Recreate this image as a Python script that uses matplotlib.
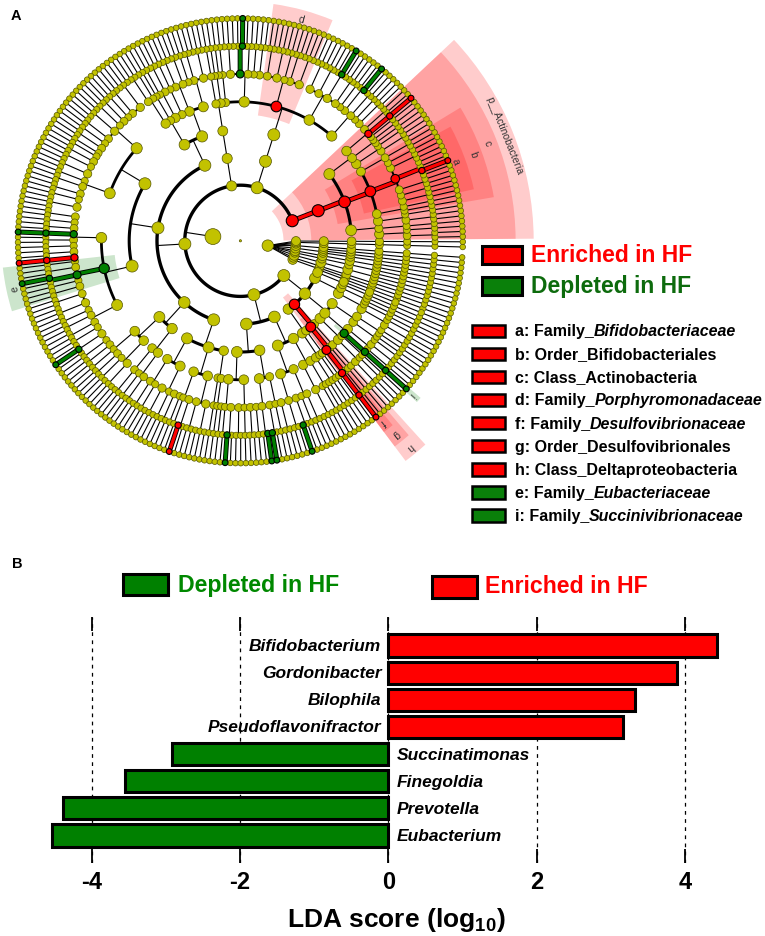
import numpy as np
import matplotlib
matplotlib.use("Agg")
import matplotlib.pyplot as plt
from matplotlib.patches import Wedge, Rectangle
from matplotlib.collections import LineCollection

plt.rcParams["font.family"] = ["Liberation Sans", "DejaVu Sans"]
plt.rcParams["axes.unicode_minus"] = False
plt.rcParams["mathtext.fontset"] = "custom"
plt.rcParams["mathtext.rm"] = "Liberation Sans:bold"
plt.rcParams["mathtext.bf"] = "Liberation Sans:bold"

W, H = 765, 937

# ---- panel A: taxonomy tree (kingdom > phylum > class > order > family > genus > species > OTU)
# an int n = node with n unbranched lineages down to OTU level (0 = tip at that rank)
# ("R"/"G", node) = enriched / depleted in HF, ":x" adds the shaded clade label
K2_PHYLA = [2, 1, [[3]], 1, [[[1, 1]]], 2, [1, 1], 0, 1, 1]

ACTINOBACTERIA = ("R:p__Actinobacteria", [
    ("R:c", [
        [[2, 1], 1, [2, 1]],
        ("R:b", [[1, 1],
                 ("R:a", [2, 1, 2, ("R", [1, ("R", 1), 1, 1]), 2, 1]),
                 [2]]),
        [[2, 1], [1, 1], [1, ("R", 1), 2]],
    ]),
])

BACTEROIDETES = [[[
    [2, 1, 2, [("G", 1), 1], 1],
    [2, [1, ("G", 1), 1], 2, 3],
    ("R:d", [3, 2, 1, 3, 2]),
    [2, 1, 2, ("G", 2), 3],
    1,
]]]

SMALL_PHYLUM = [[[2, 1]]]

BACILLI = [[[3, 2, 1], [2, 2], 1], [[2, 1], 1, [1, 2]]]
CLOSTRIDIA = [
    [[3, 2, 1, 2, 1, 3, 2, 1, 2, 1, 1], [2, 1, 3, 1, 2, 2, 1, 3]],
    [[2, 1, 2, ("G", 1), 2, 1, 2, ("R", 1)],
     ("G:e", [1, 2, ("G", 2), 1, 2]),
     [2, 3, 1, 2, 2, 1, [1, ("G", 1), 1], 1]],
]
FIRM_C3 = [[[2, 1, 2], [1, 3]], [[2], [1, 2]]]
FIRM_C4 = [[[2, 1], [3, 1, 2]], [[1, 1, [("R", 1), 1]], [2, 3]], 2]
FIRMICUTES = [BACILLI, CLOSTRIDIA, FIRM_C3, FIRM_C4]

PHYLUM_X = [
    [[[1, 1, [("G", 1), 1]], [2, 1, 2]], [[1, [1, ("G", 1)], [("G", 1), 1]], 1]],
    [[[2, 2, [("G", 1), 1]], [1, 2]], [[3], 2]],
]

PROTEOBACTERIA = [
    [[2, 1], 1],
    ("R:h", [("R:g", [("R:f", [("R", 1), 1]), 1]), 1]),
    [[[2, 1], 1], [("G:i", 1), [1, 2]], [[1, 1], 2]],
    [[[2, 1], 1], 2],
    [1, 1],
]

K1_PHYLA = [ACTINOBACTERIA, BACTEROIDETES, SMALL_PHYLUM, FIRMICUTES, PHYLUM_X, PROTEOBACTERIA]
KINGDOMS = [K2_PHYLA, K1_PHYLA]

LEG_KEYS = ["a", "b", "c", "d", "f", "g", "h", "e", "i"]
LEG_RANKS = ["Family", "Order", "Class", "Family", "Family", "Order", "Class", "Family", "Family"]
LEG_TAXA = ["Bifidobacteriaceae", "Bifidobacteriales", "Actinobacteria", "Porphyromonadaceae",
            "Desulfovibrionaceae", "Desulfovibrionales", "Deltaproteobacteria",
            "Eubacteriaceae", "Succinivibrionaceae"]
LEG_GROUP = ["R", "R", "R", "R", "R", "R", "R", "G", "G"]

# ---- panel B
GENERA = ["Eubacterium", "Prevotella", "Finegoldia", "Succinatimonas",
          "Pseudoflavonifractor", "Bilophila", "Gordonibacter", "Bifidobacterium"]
LDA = [-4.53, -4.38, -3.55, -2.91, 3.16, 3.32, 3.89, 4.43]

COL = {"R": "#ff0000", "G": "#008000", None: "#c2c200"}


def build(spec, depth, col=None):
    label = None
    if isinstance(spec, tuple):
        tag, spec = spec
        col, _, label = tag.partition(":")
        label = label or None
    node = {"depth": depth, "col": col, "label": label, "kids": []}
    if isinstance(spec, int):
        if depth < 8 and spec > 0:
            node["kids"] = [build(1, depth + 1, col if k == 0 else None) for k in range(spec)]
    else:
        node["kids"] = [build(s, depth + 1) for s in spec]
    return node


root = {"depth": 0, "col": None, "label": None,
        "kids": [build(k, 1) for k in KINGDOMS]}
fan_node = root["kids"][0]

nodes, leaves = [], []


def walk(n):
    nodes.append(n)
    if not n["kids"]:
        n["i0"] = n["i1"] = len(leaves)
        leaves.append(n)
    else:
        for k in n["kids"]:
            walk(k)
        n["i0"], n["i1"] = n["kids"][0]["i0"], n["kids"][-1]["i1"]


walk(root)
TH0 = -21.0
STEP = 360.0 / len(leaves)
S = 27.8
CX, CY = 240.4, H - 241.8


def place(n):
    if not n["kids"]:
        n["th"] = TH0 + (n["i0"] + 0.5) * STEP
    else:
        for k in n["kids"]:
            place(k)
        n["th"] = 0.5 * (n["kids"][0]["th"] + n["kids"][-1]["th"])
    n["r"] = n["depth"] * S


place(root)


def xy(th, r):
    t = np.radians(th)
    return CX + r * np.cos(t), CY + r * np.sin(t)


def arc(r, a, b):
    t = np.linspace(a, b, max(2, int(abs(b - a) * 2) + 2))
    x, y = xy(t, r)
    return list(zip(x, y))


fig = plt.figure(figsize=(W / 100, H / 100), dpi=100)
ax = fig.add_axes([0, 0, 1, 1])
ax.set_xlim(0, W)
ax.set_ylim(0, H)
ax.axis("off")

ARC_LW = {2: 2.4, 3: 2.4, 4: 2.2, 5: 2.0, 6: 1.4, 7: 1.1, 8: 0.9}
segs, lws = [], []
for n in nodes:
    if n["depth"] == 0 or not n["kids"]:
        continue
    if n is fan_node:
        for k in n["kids"]:
            segs.append([xy(n["th"], n["r"]), xy(k["th"], k["r"])])
            lws.append(0.8)
        continue
    rc = n["r"] + S
    segs.append([xy(n["th"], n["r"]), xy(n["th"], rc)])
    lws.append(0.8)
    lo = min(n["th"], n["kids"][0]["th"])
    hi = max(n["th"], n["kids"][-1]["th"])
    if hi - lo > 0.05:
        segs.append(arc(rc, lo, hi))
        lws.append(ARC_LW[n["depth"] + 1])
ax.add_collection(LineCollection(segs, colors="black", linewidths=lws,
                                 capstyle="butt", zorder=2))

# coloured edges between coloured parent/child
for n in nodes:
    for k in n["kids"]:
        if n["col"] and k["col"] and n["depth"] > 0:
            pts = [xy(n["th"], n["r"])] + arc(k["r"], n["th"], k["th"])
            px, py = zip(*pts)
            ax.plot(px, py, color="black", lw=3.6, zorder=3, solid_capstyle="butt")
            ax.plot(px, py, color=COL[k["col"]], lw=2.3, zorder=3.1, solid_capstyle="butt")

# shaded clades + labels
for n in nodes:
    if not n["label"]:
        continue
    lvl = n["depth"]
    r_out = (8.6 + (5 - lvl) * 0.65) * S
    r_in = n["r"] - 0.45 * S
    a0 = TH0 + n["i0"] * STEP
    a1 = TH0 + (n["i1"] + 1) * STEP
    ax.add_patch(Wedge((CX, CY), r_out, a0, a1, width=r_out - r_in,
                       facecolor=COL[n["col"]], alpha=0.2, lw=0, zorder=0))
    tm = 0.5 * (a0 + a1)
    tx, ty = xy(tm, r_out - 0.33 * S)
    ax.text(tx, ty, n["label"], rotation=tm - 90, ha="center", va="center",
            fontsize=7.5, color="#333333", rotation_mode="anchor", zorder=1)

# nodes: size grows with rank and with the number of tips below
BASE = {1: 9.0, 2: 9.0, 3: 9.0, 4: 8.8, 5: 8.2, 6: 7.2, 7: 6.3, 8: 5.6}
for group in (None, "R", "G"):
    px, py, ss = [], [], []
    for n in nodes:
        if n["col"] != group:
            continue
        nl = n["i1"] - n["i0"] + 1
        if n["depth"] == 0:
            d = 2.2
        elif n["depth"] == 1:
            d = 7.0 + 1.6 * np.log(nl)
        else:
            d = min(12.0, BASE[n["depth"]] + 1.0 * np.log(nl))
        if group:
            d = max(d, 5.8)
        x, y = xy(n["th"], n["r"])
        px.append(x)
        py.append(y)
        ss.append((d * 0.72) ** 2)
    ax.scatter(px, py, s=ss, c=COL[group],
               edgecolors="#555500" if group is None else "black",
               linewidths=0.5 if group is None else 0.8, zorder=4 if group is None else 5)

# panel A legend
ax.text(10.7, H - 16, "A", fontsize=10.5, fontweight="bold", va="center")
ax.add_patch(Rectangle((482, H - 265), 40, 18, fc="#ff0000", ec="black", lw=2.2))
ax.text(531, H - 256, "Enriched in HF", fontsize=16.5, fontweight="bold",
        color="#ff0000", va="center")
ax.add_patch(Rectangle((482, H - 295.5), 40, 18, fc="#0a800a", ec="black", lw=2.2))
ax.text(531, H - 286.5, "Depleted in HF", fontsize=16.5, fontweight="bold",
        color="#0d6b0d", va="center")

for j, (key, rank, taxon, grp) in enumerate(zip(LEG_KEYS, LEG_RANKS, LEG_TAXA, LEG_GROUP)):
    yc = H - (331.7 + 23.1 * j)
    ax.add_patch(Rectangle((472, yc - 6.2), 33, 12.4,
                           fc="#ff0000" if grp == "R" else "#0a800a", ec="black", lw=1.8))
    if rank == "Family":
        t1 = ax.text(515, yc, f"{key}: {rank}_", fontsize=11.5, fontweight="bold", va="center")
        ax.annotate(taxon, xy=(1, 0), xycoords=t1, va="bottom", ha="left",
                    fontsize=11.5, fontweight="bold", style="italic")
    else:
        ax.text(515, yc, f"{key}: {rank}_{taxon}", fontsize=11.5, fontweight="bold", va="center")

# ---- panel B
ax.text(11.7, H - 564, "B", fontsize=10.5, fontweight="bold", va="center")
ax.add_patch(Rectangle((123.3, H - 595.7), 45, 20.7, fc="#008000", ec="black", lw=2.2))
ax.text(177.7, H - 585.3, "Depleted in HF", fontsize=16.7, fontweight="bold",
        color="#008800", va="center")
ax.add_patch(Rectangle((431.7, H - 599), 45.6, 22.3, fc="#ff0000", ec="black", lw=2.2))
ax.text(485, H - 586.7, "Enriched in HF", fontsize=16.7, fontweight="bold",
        color="#ff0000", va="center")

bx = fig.add_axes([30 / W, (H - 864) / H, 730 / W, 246 / H], facecolor="none")
ypos = np.arange(len(GENERA))
bx.barh(ypos, LDA, height=0.82, color=["#ff0000" if v > 0 else "#008000" for v in LDA],
        edgecolor="black", linewidth=2.2, zorder=3)
bx.set_xlim(-4.829, 5.009)
bx.set_ylim(-1.013, 8.05)
bx.set_xticks([-4, -2, 0, 2, 4])
bx.set_yticks([])
for sp in bx.spines.values():
    sp.set_visible(False)
bx.tick_params(axis="x", direction="in", length=10, width=1.3, top=True, bottom=True,
               labelsize=17, pad=5)
for lab in bx.get_xticklabels():
    lab.set_fontweight("bold")
bx.grid(axis="x", color="black", lw=0.9, ls=(0, (3, 3.5)))
bx.set_axisbelow(True)
for y, name, v in zip(ypos, GENERA, LDA):
    if v > 0:
        bx.text(-0.094, y, name, ha="right", va="center", fontsize=12.5,
                fontweight="bold", style="italic")
    else:
        bx.text(0.108, y, name, ha="left", va="center", fontsize=12.5,
                fontweight="bold", style="italic")
fig.text(396 / W, 1 - 920 / H, "LDA score (log$_{10}$)", ha="center", va="center",
         fontsize=19, fontweight="bold")

fig.savefig("out.png", dpi=100)
